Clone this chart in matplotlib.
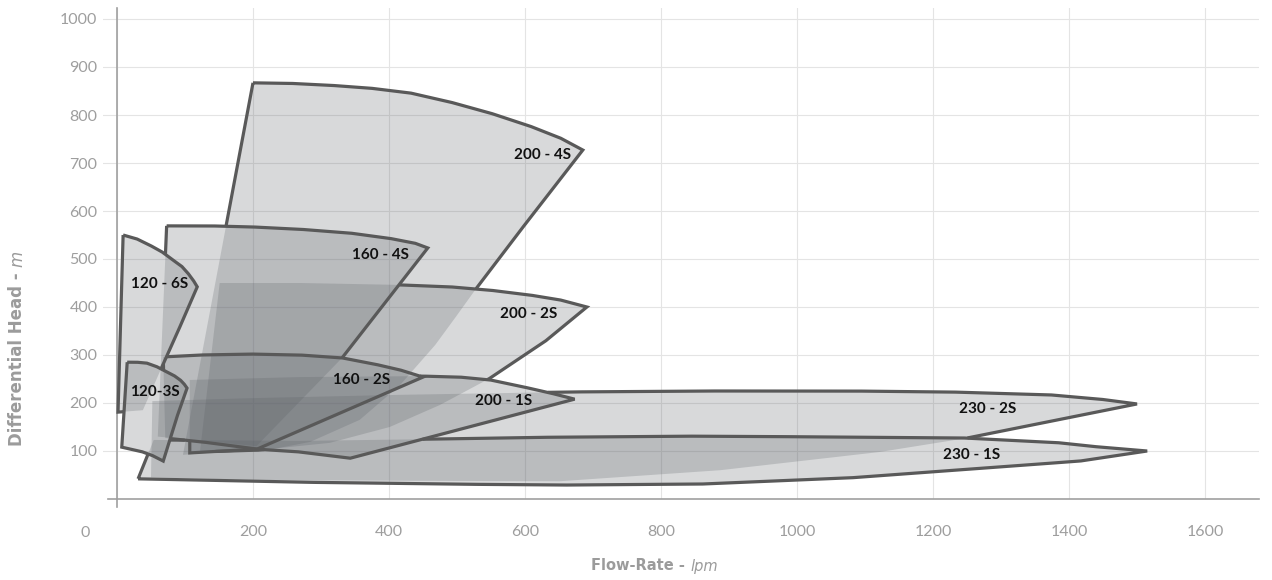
import numpy as np
import matplotlib
matplotlib.use("Agg")
import matplotlib.pyplot as plt
from matplotlib.path import Path

# ---------------- data (flow in lpm, head in m) ----------------
x_ticks = [0, 200, 400, 600, 800, 1000, 1200, 1400, 1600]
x_tick_labels = ["0", "200", "400", "600", "800", "1000", "1200", "1400", "1600"]
y_ticks = [100, 200, 300, 400, 500, 600, 700, 800, 900, 1000]
y_tick_labels = ["100", "200", "300", "400", "500", "600", "700", "800", "900", "1000"]

# envelopes listed bottom layer -> top layer
names = ["200 - 4S", "230 - 2S", "230 - 1S", "200 - 2S", "200 - 1S",
         "160 - 4S", "160 - 2S", "120 - 6S", "120-3S"]

flow_200_4s = [200, 254, 313, 372, 431, 490, 549, 607, 652, 685, 607, 529, 497, 468, 416, 357, 284, 207, 151, 97]
head_200_4s = [867, 866, 862, 856, 846, 827, 804, 777, 752, 727, 585, 440, 377, 321, 237, 165, 119, 98, 98, 92]

flow_230_2s = [52, 196, 416, 666, 857, 1078, 1225, 1372, 1446, 1500, 1250, 1122, 887, 651, 416, 196, 50]
head_230_2s = [204, 210, 217, 223, 225, 225, 223, 217, 208, 198, 127, 98, 60, 37, 38, 40, 45]

flow_230_1s = [31, 269, 490, 651, 857, 1078, 1298, 1416, 1515, 1446, 1387, 1250, 1078, 857, 651, 475, 269, 54]
head_230_1s = [42, 35, 31, 29, 31, 44, 67, 79, 100, 108, 117, 127, 129, 131, 129, 125, 121, 123]

flow_200_2s = [151, 269, 343, 416, 490, 549, 607, 651, 691, 632, 549, 475, 401, 313, 210, 122]
head_200_2s = [450, 450, 448, 446, 442, 435, 425, 415, 400, 331, 252, 196, 150, 117, 102, 98]

flow_200_1s = [107, 269, 450, 504, 549, 593, 637, 673, 343, 269, 206, 107]
head_200_1s = [248, 254, 256, 254, 248, 235, 221, 208, 85, 98, 104, 96]

flow_160_4s = [73, 137, 196, 269, 343, 401, 438, 457, 331, 205, 137, 60]
head_160_4s = [569, 569, 567, 562, 554, 543, 533, 523, 294, 110, 120, 130]

flow_160_2s = [68, 122, 196, 269, 331, 379, 416, 450, 206, 137, 71]
head_160_2s = [296, 300, 302, 300, 294, 281, 269, 254, 104, 117, 127]

flow_120_6s = [9, 29, 48, 66, 82, 95, 104, 112, 118, 97, 66, 38, 1.5]
head_120_6s = [550, 542, 529, 515, 498, 485, 471, 456, 442, 373, 275, 185, 181]

flow_120_3s = [15, 29, 44, 58, 73, 84, 93, 98.5, 103, 90, 68, 53, 38, 7]
head_120_3s = [285, 285, 283, 276, 265, 257, 248, 240, 231, 179, 79, 90, 98, 108]

label_flow = [626, 1281, 1256, 606, 569, 387, 360, 62, 56]
label_head = [717, 188, 92, 385, 204, 508, 248, 448, 223]

flows = [flow_200_4s, flow_230_2s, flow_230_1s, flow_200_2s, flow_200_1s,
         flow_160_4s, flow_160_2s, flow_120_6s, flow_120_3s]
heads = [head_200_4s, head_230_2s, head_230_1s, head_200_2s, head_200_1s,
         head_160_4s, head_160_2s, head_120_6s, head_120_3s]

# ---------------- figure ----------------
W, H = 1272, 580
fig = plt.figure(figsize=(W / 100, H / 100), dpi=100)
XMIN, XMAX, YMIN, YMAX = -21, 1680, 0, 1022
px_per_x = 0.68
px_per_y = 0.48
ax_left = 117 + XMIN * px_per_x
ax_right = 117 + XMAX * px_per_x
ax_bottom = 499
ax_top = 499 - YMAX * px_per_y
ax = fig.add_axes([ax_left / W, 1 - ax_bottom / H,
                   (ax_right - ax_left) / W, (ax_bottom - ax_top) / H])
ax.set_xlim(XMIN, XMAX)
ax.set_ylim(YMIN, YMAX)

grid_c = "#e4e4e4"
axis_c = "#a0a0a0"
tick_c = "#9e9e9e"

ax.set_axisbelow(True)
ax.grid(True, color=grid_c, lw=0.8)
for s in ["top", "right"]:
    ax.spines[s].set_visible(False)
ax.spines["left"].set_position(("data", 0))
ax.spines["left"].set_color(axis_c)
ax.spines["left"].set_linewidth(1.2)
ax.spines["bottom"].set_color(axis_c)
ax.spines["bottom"].set_linewidth(1.2)
ax.spines["bottom"].set_bounds(-13, XMAX)
# small extension of the y axis line below the x axis
ax.plot([0, 0], [-17, 0], color=axis_c, lw=1.2, clip_on=False, zorder=2.5)

ax.set_xticks(x_ticks, labels=[""] + x_tick_labels[1:])
ax.set_yticks(y_ticks, labels=y_tick_labels)
ax.tick_params(axis="both", length=0, colors=tick_c, labelsize=11.5)
ax.tick_params(axis="x", pad=19)
ax.tick_params(axis="y", pad=14)
for lab in ax.get_xticklabels() + ax.get_yticklabels():
    lab.set_fontfamily("Lato")
ax.annotate(x_tick_labels[0], xy=(x_ticks[0], 0), xytext=(-32 * 0.72, -34 * 0.72),
            textcoords="offset points", ha="center", va="center",
            color=tick_c, fontsize=11.5, family="Lato",
            annotation_clip=False)

# ---------------- envelopes ----------------
fill_c = (90 / 255, 95 / 255, 100 / 255)
edge_c = "#595959"
paths = [Path(np.column_stack([f, h]), closed=False) for f, h in zip(flows, heads)]

for f, h in zip(flows, heads):
    ax.fill(f, h, color=fill_c, alpha=0.235, lw=0, zorder=2)


def visible_outline(f, h, uppers):
    xs = np.append(np.asarray(f, float), f[0])
    ys = np.append(np.asarray(h, float), h[0])
    segs = []
    for i in range(len(xs) - 1):
        lp = np.hypot((xs[i + 1] - xs[i]) * px_per_x, (ys[i + 1] - ys[i]) * px_per_y)
        n = max(2, int(lp * 2))
        t = np.linspace(0, 1, n, endpoint=False)
        segs.append(np.column_stack([xs[i] + (xs[i + 1] - xs[i]) * t,
                                     ys[i] + (ys[i + 1] - ys[i]) * t]))
    segs.append([[xs[-1], ys[-1]]])
    P = np.vstack(segs)
    hidden = np.zeros(len(P), bool)
    for up in uppers:
        hidden |= up.contains_points(P)
    P = P.copy()
    P[hidden] = np.nan
    return P[:, 0], P[:, 1]


for k, (f, h) in enumerate(zip(flows, heads)):
    vx, vy = visible_outline(f, h, paths[k + 1:])
    ax.plot(vx, vy, color=edge_c, lw=2.3, solid_joinstyle="miter",
            solid_capstyle="butt", zorder=3)

for name, lx, ly in zip(names, label_flow, label_head):
    ax.text(lx, ly, name, ha="center", va="center", fontsize=11,
            fontweight="bold", color="#111111", family="Lato", zorder=4)

# ---------------- axis titles ----------------
title_c = "#9b9b9b"
fig.text(690 / W, 1 - 566 / H, "Flow-Rate - ", ha="right", va="center",
         fontsize=10.5, fontweight="bold", color=title_c)
fig.text(690 / W, 1 - 566 / H, "lpm", ha="left", va="center",
         fontsize=10.5, style="italic", color=title_c)
fig.text(17 / W, 1 - 267 / H, "Differential Head - ", ha="right", va="center",
         rotation=90, rotation_mode="anchor", fontsize=12,
         fontweight="bold", color=title_c)
fig.text(17 / W, 1 - 267 / H, "m", ha="left", va="center",
         rotation=90, rotation_mode="anchor", fontsize=12,
         style="italic", color=title_c)

fig.savefig("out.png", dpi=100)
